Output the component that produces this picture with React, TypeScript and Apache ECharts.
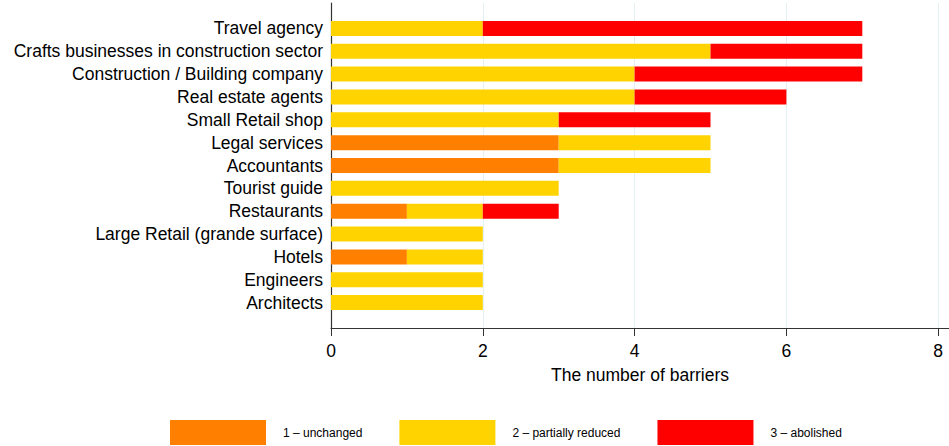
import React, { useEffect, useRef } from "react";
import * as echarts from "echarts";

const categories = [
  "Travel agency",
  "Crafts businesses in construction sector",
  "Construction / Building company",
  "Real estate agents",
  "Small Retail shop",
  "Legal services",
  "Accountants",
  "Tourist guide",
  "Restaurants",
  "Large Retail (grande surface)",
  "Hotels",
  "Engineers",
  "Architects",
];
const unchanged = [0, 0, 0, 0, 0, 3, 3, 0, 1, 0, 1, 0, 0];
const partiallyReduced = [2, 5, 4, 4, 3, 2, 2, 3, 1, 2, 1, 2, 2];
const abolished = [5, 2, 3, 2, 2, 0, 0, 0, 1, 0, 0, 0, 0];
const seriesNames = ["1 – unchanged", "2 – partially reduced", "3 – abolished"];
const tickValues = [0, 2, 4, 6, 8];

const FONT = "Liberation Sans, Arial, sans-serif";
const XMAX = 618 / 75.9;

export default function App() {
  const ref = useRef<HTMLDivElement>(null);
  useEffect(() => {
    if (!ref.current) return;
    const chart = echarts.init(ref.current, null, { renderer: "svg" });
    const colors = ["#FF8000", "#FFD300", "#FF0000"];
    const data = [unchanged, partiallyReduced, abolished];
    chart.setOption({
      animation: false,
      backgroundColor: "#fff",
      textStyle: { fontFamily: FONT },
      legend: {
        left: 170,
        top: 420,
        padding: 0,
        itemWidth: 96,
        itemHeight: 25,
        itemGap: 37,
        icon: "rect",
        selectedMode: false,
        data: seriesNames,
        textStyle: { fontSize: 12, color: "#000", fontFamily: FONT, padding: [0, 0, 0, 12] },
      },
      grid: [
        { left: 331, top: 17, width: 618, height: 297 },
        { left: 331, top: 3, width: 618, height: 325 },
      ],
      xAxis: [
        {
          gridIndex: 0,
          type: "value",
          min: 0,
          max: XMAX,
          show: false,
        },
        {
          gridIndex: 1,
          type: "value",
          min: 0,
          max: XMAX,
          interval: 2,
          axisLine: { show: true, lineStyle: { color: "#333", width: 1.2 } },
          axisTick: { show: true, length: 8, lineStyle: { color: "#333" }, customValues: tickValues },
          axisLabel: {
            fontSize: 17.5,
            color: "#000",
            margin: 14,
            fontFamily: FONT,
            customValues: tickValues,
            formatter: (v: number) => (Math.abs(v % 2) < 1e-9 ? String(v) : ""),
          },
          splitLine: { show: true, lineStyle: { color: "#E3EFF2", width: 1 } },
          name: "The number of barriers",
          nameLocation: "middle",
          nameGap: 38,
          nameTextStyle: { fontSize: 17.5, color: "#000", fontFamily: FONT },
        },
      ],
      yAxis: [
        {
          gridIndex: 0,
          type: "category",
          data: categories,
          inverse: true,
          axisLine: { show: false },
          axisTick: { show: false },
          axisLabel: { fontSize: 17.5, color: "#000", margin: 8, fontFamily: FONT, interval: 0 },
        },
        {
          gridIndex: 1,
          type: "value",
          min: 0,
          max: 1,
          axisLine: { show: true, lineStyle: { color: "#333", width: 1.2 } },
          axisTick: { show: false },
          axisLabel: { show: false },
          splitLine: { show: false },
        },
      ],
      series: seriesNames.map((name, i) => ({
        name,
        type: "bar",
        stack: "total",
        xAxisIndex: 0,
        yAxisIndex: 0,
        barWidth: 15,
        itemStyle: { color: colors[i] },
        data: data[i],
      })),
    });
    return () => chart.dispose();
  }, []);
  return (
    <div
      ref={ref}
      style={{ position: "fixed", left: 0, top: 0, width: 949, height: 446 }}
    />
  );
}
